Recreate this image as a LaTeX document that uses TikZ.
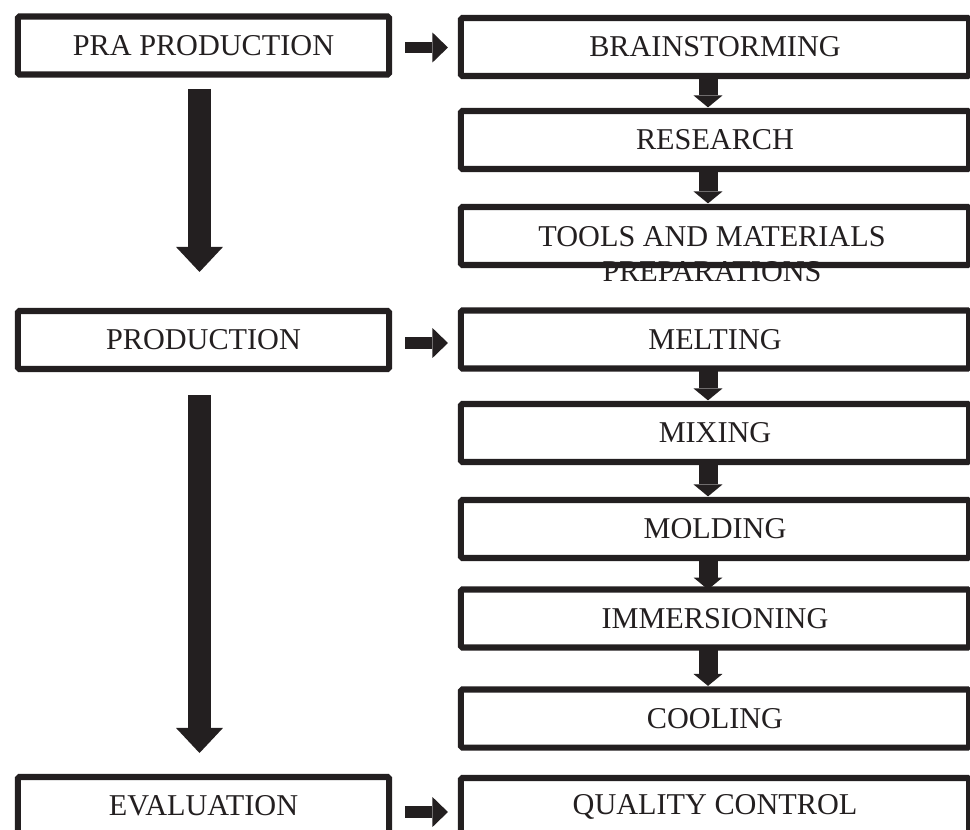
\documentclass[tikz,border=0pt]{standalone}
\usepackage{fontspec}
\setmainfont{Liberation Serif}
\usetikzlibrary{arrows.meta}

\definecolor{ink}{RGB}{35,31,32}

\tikzset{
  stage/.style={draw=ink, text=ink, line width=4.3pt, rounded corners=1pt, minimum width=9.275cm,
    minimum height=1.45cm, inner sep=0pt, outer sep=0pt, font=\fontsize{21.5}{25}\selectfont},
  task/.style={stage, minimum width=12.7cm},
  bigarrow/.style={draw=ink, line width=16.4pt, -{Triangle[width=33.4pt, length=17.8pt, line width=0pt, fill=ink]}},
  smallarrow/.style={draw=ink, line width=13.5pt, -{Triangle[width=20.6pt, length=8.5pt, line width=0pt, fill=ink]}},
  sidearrow/.style={draw=ink, line width=8.3pt, -{Triangle[width=21.3pt, length=11pt, line width=0pt, fill=ink]}},
}

\begin{document}
\begin{tikzpicture}[x=0.025cm, y=-0.025cm]
    \clip (0,0) rectangle (970,829);

    % Main stages
    \node[stage] (pra) at (203.5,45.5) {PRA PRODUCTION};
    \node[stage] (prod) at (203.5,340) {PRODUCTION};
    \node[stage] (eval) at (203.5,806) {EVALUATION};

    % Steps of each stage
    \node[task] (brain) at (715,47) {BRAINSTORMING};
    \node[task] (research) at (715,140) {RESEARCH};
    \node[task] (tools) at (715,236) {};
    \node[text=ink, font=\fontsize{21.5}{24.9}\selectfont, align=center, inner sep=0pt] (toolstext) at (712,254) {TOOLS AND MATERIALS\\PREPARATIONS};
    \node[task] (melt) at (715,339.5) {MELTING};
    \node[task] (mix) at (715,433) {MIXING};
    \node[task] (mold) at (715,529) {MOLDING};
    \node[task] (immerse) at (715,618.5) {IMMERSIONING};
    \node[task] (cool) at (715,718.5) {COOLING};
    \node[task] (qc) at (715,807) {QUALITY CONTROL};

    % Stage to stage
    \draw[bigarrow, shorten <=0.36cm, shorten >=0.975cm] ([xshift=-0.1cm]pra.south) -- ([xshift=-0.1cm]prod.north);
    \draw[bigarrow, shorten <=0.65cm, shorten >=0.6cm] ([xshift=-0.1cm]prod.south) -- ([xshift=-0.1cm]eval.north);

    % Stage to first step
    \draw[sidearrow, shorten <=0.4cm, shorten >=0.325cm] ([yshift=-0.05cm]pra.east) -- ([yshift=-0.05cm]pra.east -| brain.west);
    \draw[sidearrow, shorten <=0.4cm, shorten >=0.325cm] ([yshift=-0.075cm]prod.east) -- ([yshift=-0.075cm]prod.east -| melt.west);
    \draw[sidearrow, shorten <=0.4cm, shorten >=0.325cm] ([yshift=-0.15cm]eval.east) -- ([yshift=-0.15cm]eval.east -| qc.west);

    % Step to step
    \draw[smallarrow, shorten >=0.09cm] ([xshift=-0.175cm]brain.south) -- ([xshift=-0.175cm]research.north);
    \draw[smallarrow, shorten >=0.09cm] ([xshift=-0.175cm]research.south) -- ([xshift=-0.175cm]tools.north);
    \draw[smallarrow, shorten >=0.09cm] ([xshift=-0.175cm]melt.south) -- ([xshift=-0.175cm]mix.north);
    \draw[smallarrow, shorten >=0.09cm] ([xshift=-0.175cm]mix.south) -- ([xshift=-0.175cm]mold.north);
    \draw[smallarrow] ([xshift=-0.175cm]mold.south) -- ([xshift=-0.175cm]immerse.north);
    \draw[smallarrow, shorten >=0.09cm] ([xshift=-0.175cm]immerse.south) -- ([xshift=-0.175cm]cool.north);
\end{tikzpicture}
\end{document}
